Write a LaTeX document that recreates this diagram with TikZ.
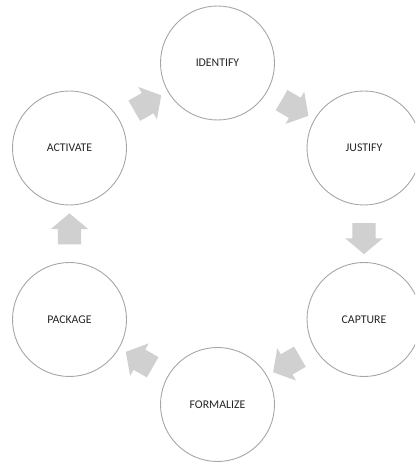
\documentclass[tikz,border=0pt]{standalone}
\usepackage{fontspec}
\setmainfont{Carlito}
\usetikzlibrary{shapes.arrows}
\definecolor{ringline}{HTML}{A6A6A6}
\definecolor{labeltext}{HTML}{262626}
\definecolor{flowfill}{HTML}{D0D0D0}
\tikzset{
  stage/.style={circle, draw=ringline, line width=0.9pt, fill=white,
    minimum size=114pt, inner sep=0pt, text=labeltext,
    font=\fontsize{11.8}{13}\selectfont},
  flowarrow/.style={single arrow, fill=flowfill, draw=none,
    inner xsep=0pt, inner ysep=11.5pt,
    minimum height=31pt, minimum width=37pt,
    single arrow head extend=7pt, single arrow tip angle=100,
    sloped, allow upside down},
}
\begin{document}
\begin{tikzpicture}[x=1pt,y=1pt]
  \useasboundingbox (0,0) rectangle (415,462);
  \clip (0,0) rectangle (415,462);
  % the six stages of the cycle
  \node[stage] (identify)  at (217.5,399)  {IDENTIFY};
  \node[stage] (justify)   at (364,314)    {JUSTIFY};
  \node[stage] (capture)   at (364,142.5)  {CAPTURE};
  \node[stage] (formalize) at (217.5,57.5) {FORMALIZE};
  \node[stage] (package)   at (69.5,142.5) {PACKAGE};
  \node[stage] (activate)  at (69.5,314)   {ACTIVATE};
  % block arrows halfway between consecutive stages
  \path (identify)  -- node[flowarrow] {} (justify);
  \path (justify)   -- node[flowarrow] {} (capture);
  \path (capture)   -- node[flowarrow] {} (formalize);
  \path (formalize) -- node[flowarrow] {} (package);
  \path (package)   -- node[flowarrow] {} (activate);
  \path (activate)  -- node[flowarrow] {} (identify);
\end{tikzpicture}
\end{document}
